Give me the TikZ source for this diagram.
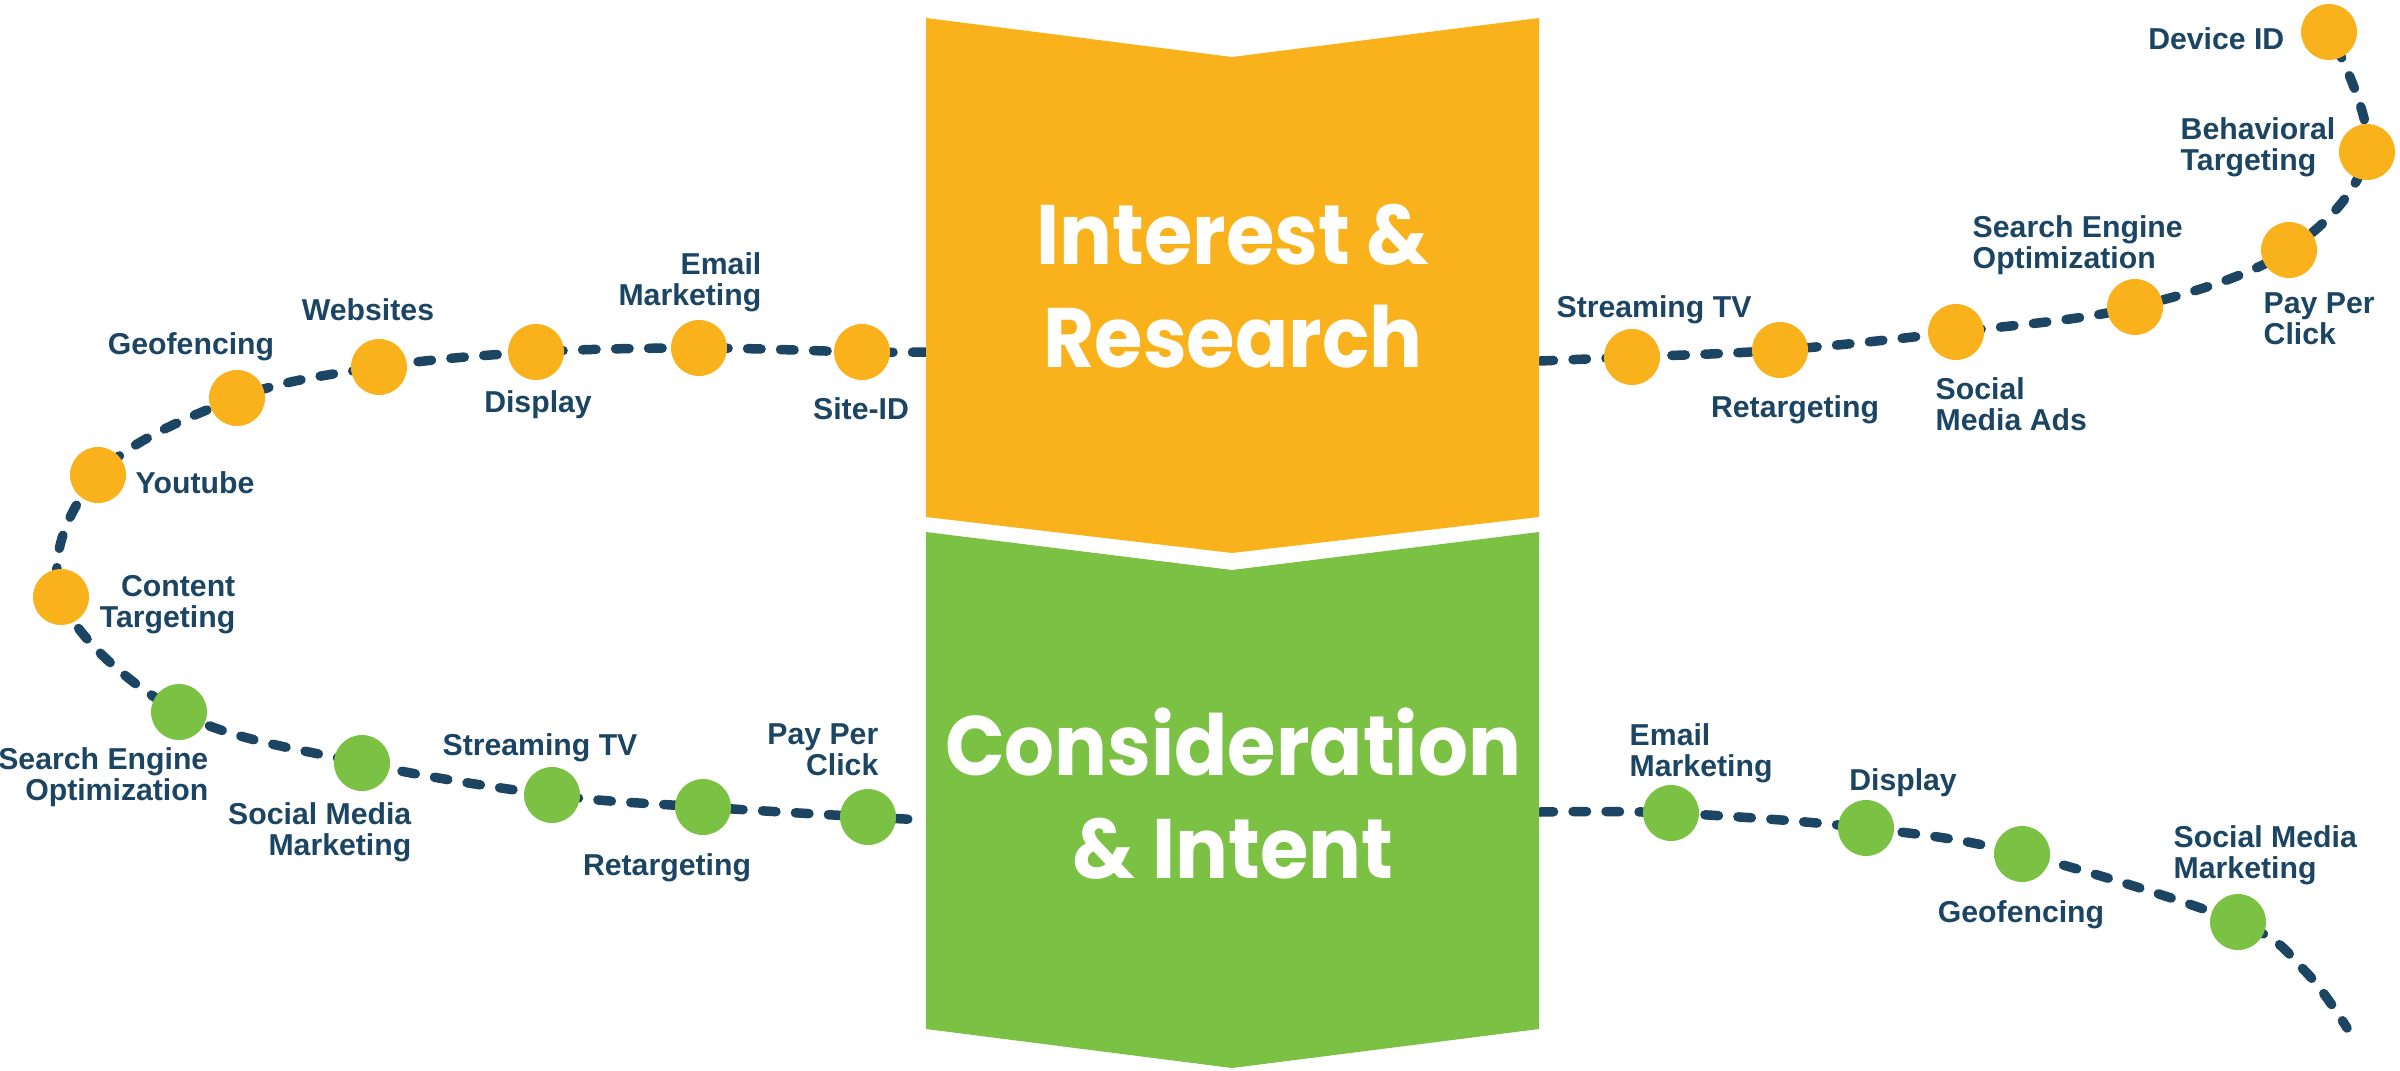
\documentclass[tikz,border=0pt]{standalone}
\usepackage{fontspec}
\setmainfont{Liberation Sans}
\newfontfamily\headfont{Poppins}[FakeStretch=0.93]
\usetikzlibrary{
	backgrounds,
	positioning
}
\definecolor{funnelorange}{HTML}{F9B21B}
\definecolor{funnelgreen}{HTML}{7BC143}
\definecolor{pathnavy}{HTML}{1B4563}

\begin{document}
\begin{tikzpicture}[
	dot/.style={circle, minimum size=5.6mm, inner sep=0pt},
	odot/.style={dot, fill=funnelorange},
	gdot/.style={dot, fill=funnelgreen},
	touchlabel/.style={
		font=\bfseries\fontsize{8.6}{8.8}\selectfont, text=pathnavy,
		inner sep=0pt, align=center
	},
	ltouch/.style={touchlabel, align=left},
	rtouch/.style={touchlabel, align=right},
	headline/.style={
		font=\headfont\bfseries\fontsize{24}{29.3}\selectfont,
		text=white, align=center
	},
	journey/.style={pathnavy, line width=0.95mm, line cap=round, dash pattern=on 1.35mm off 1.95mm}
	]
	\useasboundingbox (0,0) rectangle (24,10.7);
	
	% Funnel stages
	\fill[funnelorange] (9.26,10.52) -- (12.32,10.13) -- (15.39,10.52) -- (15.39,5.53) -- (12.32,5.17) -- (9.26,5.53) -- cycle;
	\fill[funnelgreen] (9.26,5.38) -- (12.32,5.00) -- (15.39,5.38) -- (15.39,0.41) -- (12.32,0.02) -- (9.26,0.41) -- cycle;
	\node[headline] (interest) at (12.33,7.84) {Interest \&\\Research};
	\node[headline] (consider) at (12.33,2.76) {Consideration\\\& Intent};
	
	% Path ends at the funnel edges
	\coordinate (iLedge) at (9.26,7.18);
	\coordinate (iRedge) at (15.40,7.09);
	\coordinate (cLedge) at (9.26,2.50);
	\coordinate (cRedge) at (15.40,2.58);
	\coordinate (cRbend) at (23.04,1.00);
	\coordinate (cRend) at (23.47,0.42);
	
	% --- Interest & Research, left ---
	\node[odot] (iLsite) at (8.62,7.18) {};
	\node[odot] (iLemail) at (6.99,7.22) {};
	\node[odot] (iLdisplay) at (5.36,7.18) {};
	\node[odot] (iLweb) at (3.79,7.03) {};
	\node[odot] (iLgeo) at (2.37,6.72) {};
	\node[odot] (iLyou) at (0.98,5.95) {};
	\node[odot] (iLcontent) at (0.61,4.73) {};
	
	\node[touchlabel, anchor=north] (iLsitetxt) at (8.61,6.73) {Site-ID};
	\node[rtouch, anchor=north east] (iLemailtxt) at (7.62,8.18) {Email\\Marketing};
	\node[touchlabel, anchor=north] (iLdisplaytxt) at (5.38,6.80) {Display};
	\node[touchlabel, anchor=north] (iLwebtxt) at (3.68,7.72) {Websites};
	\node[touchlabel, anchor=north] (iLgeotxt) at (1.91,7.38) {Geofencing};
	\node[touchlabel, anchor=north west] (iLyoutxt) at (1.35,5.99) {Youtube};
	\node[rtouch, anchor=north east] (iLcontenttxt) at (2.36,4.95) {Content\\Targeting};
	
	% --- Consideration & Intent, left ---
	\node[gdot] (cLseo) at (1.79,3.58) {};
	\node[gdot] (cLsocial) at (3.62,3.07) {};
	\node[gdot] (cLstream) at (5.52,2.75) {};
	\node[gdot] (cLretarget) at (7.03,2.63) {};
	\node[gdot] (cLppc) at (8.68,2.53) {};
	
	\node[rtouch, anchor=north east] (cLseotxt) at (2.09,3.23) {Search Engine\\Optimization};
	\node[rtouch, anchor=north east] (cLsocialtxt) at (4.12,2.68) {Social Media\\Marketing};
	\node[touchlabel, anchor=north] (cLstreamtxt) at (5.40,3.37) {Streaming TV};
	\node[touchlabel, anchor=north] (cLretargettxt) at (6.67,2.17) {Retargeting};
	\node[rtouch, anchor=north east] (cLppctxt) at (8.79,3.47) {Pay Per\\Click};
	
	% --- Interest & Research, right ---
	\node[odot] (iRstream) at (16.32,7.13) {};
	\node[odot] (iRretarget) at (17.80,7.20) {};
	\node[odot] (iRsocial) at (19.56,7.38) {};
	\node[odot] (iRseo) at (21.35,7.63) {};
	\node[odot] (iRppc) at (22.89,8.20) {};
	\node[odot] (iRbehav) at (23.67,9.18) {};
	\node[odot] (iRdevice) at (23.29,10.38) {};
	
	\node[touchlabel, anchor=north] (iRstreamtxt) at (16.54,7.75) {Streaming TV};
	\node[touchlabel, anchor=north] (iRretargettxt) at (17.95,6.75) {Retargeting};
	\node[ltouch, anchor=north west] (iRsocialtxt) at (19.35,6.93) {Social\\Media Ads};
	\node[ltouch, anchor=north west] (iRseotxt) at (19.72,8.55) {Search Engine\\Optimization};
	\node[ltouch, anchor=north west] (iRppctxt) at (22.63,7.78) {Pay Per\\Click};
	\node[ltouch, anchor=north west] (iRbehavtxt) at (21.80,9.53) {Behavioral\\Targeting};
	\node[rtouch, anchor=north east] (iRdevicetxt) at (22.85,10.43) {Device ID};
	
	% --- Consideration & Intent, right ---
	\node[gdot] (cRemail) at (16.71,2.57) {};
	\node[gdot] (cRdisplay) at (18.66,2.42) {};
	\node[gdot] (cRgeo) at (20.22,2.16) {};
	\node[gdot] (cRsocial) at (22.38,1.48) {};
	
	\node[ltouch, anchor=north west] (cRemailtxt) at (16.29,3.47) {Email\\Marketing};
	\node[touchlabel, anchor=north] (cRdisplaytxt) at (19.03,3.02) {Display};
	\node[touchlabel, anchor=north] (cRgeotxt) at (20.21,1.70) {Geofencing};
	\node[ltouch, anchor=north west] (cRsocialtxt) at (21.73,2.45) {Social Media\\Marketing};
	
	% Dashed journey behind the dots
	\begin{scope}[on background layer]
		\draw[journey] plot[smooth, tension=0.6] coordinates {(iLedge) (iLsite.center) (iLemail.center) (iLdisplay.center) (iLweb.center) (iLgeo.center) (iLyou.center) (iLcontent.center) (cLseo.center) (cLsocial.center) (cLstream.center) (cLretarget.center) (cLppc.center) (cLedge)};
		\draw[journey] plot[smooth, tension=0.6] coordinates {(iRedge) (iRstream.center) (iRretarget.center) (iRsocial.center) (iRseo.center) (iRppc.center) (iRbehav.center) (iRdevice.center)};
		\draw[journey] plot[smooth, tension=0.6] coordinates {(cRedge) (cRemail.center) (cRdisplay.center) (cRgeo.center) (cRsocial.center) (cRbend) (cRend)};
	\end{scope}
\end{tikzpicture}
\end{document}
